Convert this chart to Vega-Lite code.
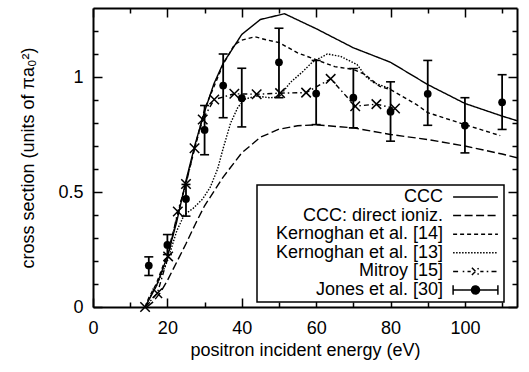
{
  "$schema": "https://vega.github.io/schema/vega-lite/v6.json",
  "width": 424,
  "height": 299,
  "autosize": {"type": "none"},
  "padding": {"left": 93, "top": 8, "right": 12, "bottom": 65},
  "background": "white",
  "config": {
    "view": {"stroke": null},
    "font": "Liberation Sans",
    "axis": {
      "grid": false,
      "domainColor": "black",
      "domainWidth": 2,
      "tickColor": "black",
      "tickWidth": 1.5,
      "labelColor": "black",
      "labelFont": "Liberation Sans",
      "labelFontSize": 18,
      "labelOverlap": false,
      "labelFlush": false,
      "titleColor": "black",
      "titleFont": "Liberation Sans",
      "titleFontSize": 18,
      "titleFontWeight": "normal"
    }
  },
  "datasets": {
    "curves": [
      {"series": "CCC", "x": 14, "y": 0},
      {"series": "CCC", "x": 15, "y": 0.03},
      {"series": "CCC", "x": 17, "y": 0.09},
      {"series": "CCC", "x": 20, "y": 0.22},
      {"series": "CCC", "x": 22.5, "y": 0.37},
      {"series": "CCC", "x": 25, "y": 0.55},
      {"series": "CCC", "x": 27.5, "y": 0.71},
      {"series": "CCC", "x": 30, "y": 0.85},
      {"series": "CCC", "x": 32.5, "y": 0.97},
      {"series": "CCC", "x": 35, "y": 1.06},
      {"series": "CCC", "x": 40, "y": 1.185},
      {"series": "CCC", "x": 45, "y": 1.25},
      {"series": "CCC", "x": 51.5, "y": 1.275},
      {"series": "CCC", "x": 60, "y": 1.21},
      {"series": "CCC", "x": 70, "y": 1.127},
      {"series": "CCC", "x": 80, "y": 1.064},
      {"series": "CCC", "x": 90, "y": 0.967},
      {"series": "CCC", "x": 100, "y": 0.885},
      {"series": "CCC", "x": 110, "y": 0.83},
      {"series": "CCC", "x": 114, "y": 0.81},

      {"series": "CCC: direct ioniz.", "x": 14.5, "y": 0},
      {"series": "CCC: direct ioniz.", "x": 16, "y": 0.02},
      {"series": "CCC: direct ioniz.", "x": 18, "y": 0.06},
      {"series": "CCC: direct ioniz.", "x": 20, "y": 0.115},
      {"series": "CCC: direct ioniz.", "x": 22.5, "y": 0.195},
      {"series": "CCC: direct ioniz.", "x": 25, "y": 0.275},
      {"series": "CCC: direct ioniz.", "x": 27.5, "y": 0.36},
      {"series": "CCC: direct ioniz.", "x": 30, "y": 0.44},
      {"series": "CCC: direct ioniz.", "x": 35, "y": 0.565},
      {"series": "CCC: direct ioniz.", "x": 40, "y": 0.67},
      {"series": "CCC: direct ioniz.", "x": 45, "y": 0.738},
      {"series": "CCC: direct ioniz.", "x": 50, "y": 0.773},
      {"series": "CCC: direct ioniz.", "x": 55, "y": 0.788},
      {"series": "CCC: direct ioniz.", "x": 60, "y": 0.792},
      {"series": "CCC: direct ioniz.", "x": 70, "y": 0.779},
      {"series": "CCC: direct ioniz.", "x": 80, "y": 0.75},
      {"series": "CCC: direct ioniz.", "x": 90, "y": 0.728},
      {"series": "CCC: direct ioniz.", "x": 100, "y": 0.7},
      {"series": "CCC: direct ioniz.", "x": 110, "y": 0.665},
      {"series": "CCC: direct ioniz.", "x": 114, "y": 0.649},

      {"series": "Kernoghan et al. [14]", "x": 14, "y": 0},
      {"series": "Kernoghan et al. [14]", "x": 15, "y": 0.04},
      {"series": "Kernoghan et al. [14]", "x": 17, "y": 0.1},
      {"series": "Kernoghan et al. [14]", "x": 20, "y": 0.23},
      {"series": "Kernoghan et al. [14]", "x": 25, "y": 0.54},
      {"series": "Kernoghan et al. [14]", "x": 30, "y": 0.86},
      {"series": "Kernoghan et al. [14]", "x": 35, "y": 1.055},
      {"series": "Kernoghan et al. [14]", "x": 38, "y": 1.14},
      {"series": "Kernoghan et al. [14]", "x": 40, "y": 1.16},
      {"series": "Kernoghan et al. [14]", "x": 43.5, "y": 1.175},
      {"series": "Kernoghan et al. [14]", "x": 47, "y": 1.16},
      {"series": "Kernoghan et al. [14]", "x": 50, "y": 1.15},
      {"series": "Kernoghan et al. [14]", "x": 55, "y": 1.105},
      {"series": "Kernoghan et al. [14]", "x": 60, "y": 1.075},
      {"series": "Kernoghan et al. [14]", "x": 65, "y": 1.045},
      {"series": "Kernoghan et al. [14]", "x": 70, "y": 1.033},
      {"series": "Kernoghan et al. [14]", "x": 73, "y": 1.012},
      {"series": "Kernoghan et al. [14]", "x": 77, "y": 0.96},
      {"series": "Kernoghan et al. [14]", "x": 80, "y": 0.945},
      {"series": "Kernoghan et al. [14]", "x": 87, "y": 0.88},
      {"series": "Kernoghan et al. [14]", "x": 90, "y": 0.845},
      {"series": "Kernoghan et al. [14]", "x": 100, "y": 0.793},
      {"series": "Kernoghan et al. [14]", "x": 109.5, "y": 0.745},

      {"series": "Kernoghan et al. [13]", "x": 14, "y": 0},
      {"series": "Kernoghan et al. [13]", "x": 15, "y": 0.035},
      {"series": "Kernoghan et al. [13]", "x": 17, "y": 0.09},
      {"series": "Kernoghan et al. [13]", "x": 20, "y": 0.2},
      {"series": "Kernoghan et al. [13]", "x": 22.5, "y": 0.33},
      {"series": "Kernoghan et al. [13]", "x": 24.5, "y": 0.4},
      {"series": "Kernoghan et al. [13]", "x": 27, "y": 0.43},
      {"series": "Kernoghan et al. [13]", "x": 29.5, "y": 0.47},
      {"series": "Kernoghan et al. [13]", "x": 31.5, "y": 0.52},
      {"series": "Kernoghan et al. [13]", "x": 33.5, "y": 0.6},
      {"series": "Kernoghan et al. [13]", "x": 35, "y": 0.69},
      {"series": "Kernoghan et al. [13]", "x": 37, "y": 0.8},
      {"series": "Kernoghan et al. [13]", "x": 39, "y": 0.87},
      {"series": "Kernoghan et al. [13]", "x": 41, "y": 0.905},
      {"series": "Kernoghan et al. [13]", "x": 44, "y": 0.917},
      {"series": "Kernoghan et al. [13]", "x": 47.5, "y": 0.91},
      {"series": "Kernoghan et al. [13]", "x": 50, "y": 0.913},
      {"series": "Kernoghan et al. [13]", "x": 53, "y": 0.975},
      {"series": "Kernoghan et al. [13]", "x": 56.5, "y": 1.025},
      {"series": "Kernoghan et al. [13]", "x": 59, "y": 1.065},
      {"series": "Kernoghan et al. [13]", "x": 63, "y": 1.1},
      {"series": "Kernoghan et al. [13]", "x": 66.5, "y": 1.09},
      {"series": "Kernoghan et al. [13]", "x": 71, "y": 1.054},
      {"series": "Kernoghan et al. [13]", "x": 73.5, "y": 1.0},
      {"series": "Kernoghan et al. [13]", "x": 75.5, "y": 0.975},
      {"series": "Kernoghan et al. [13]", "x": 80.5, "y": 0.946},

      {"series": "Mitroy [15]", "x": 14, "y": 0},
      {"series": "Mitroy [15]", "x": 17.3, "y": 0.06},
      {"series": "Mitroy [15]", "x": 20.2, "y": 0.22},
      {"series": "Mitroy [15]", "x": 22.8, "y": 0.415},
      {"series": "Mitroy [15]", "x": 25, "y": 0.535},
      {"series": "Mitroy [15]", "x": 27.3, "y": 0.69},
      {"series": "Mitroy [15]", "x": 29.5, "y": 0.815},
      {"series": "Mitroy [15]", "x": 32.6, "y": 0.902},
      {"series": "Mitroy [15]", "x": 38, "y": 0.927},
      {"series": "Mitroy [15]", "x": 44, "y": 0.925},
      {"series": "Mitroy [15]", "x": 50.3, "y": 0.93},
      {"series": "Mitroy [15]", "x": 57.3, "y": 0.932},
      {"series": "Mitroy [15]", "x": 63.9, "y": 0.992},
      {"series": "Mitroy [15]", "x": 70.5, "y": 0.873},
      {"series": "Mitroy [15]", "x": 76.2, "y": 0.882},
      {"series": "Mitroy [15]", "x": 81.2, "y": 0.863}
    ],
    "jones": [
      {"x": 15, "y": 0.18, "lo": 0.137, "hi": 0.218},
      {"x": 20, "y": 0.27, "lo": 0.228, "hi": 0.315},
      {"x": 25, "y": 0.47, "lo": 0.395, "hi": 0.533},
      {"x": 30, "y": 0.77, "lo": 0.662, "hi": 0.876},
      {"x": 35, "y": 0.963, "lo": 0.823, "hi": 1.1},
      {"x": 40, "y": 0.908, "lo": 0.783, "hi": 1.038},
      {"x": 50, "y": 1.064, "lo": 0.91, "hi": 1.212},
      {"x": 60, "y": 0.928, "lo": 0.793, "hi": 1.072},
      {"x": 70, "y": 0.91, "lo": 0.779, "hi": 1.037},
      {"x": 80, "y": 0.849, "lo": 0.721, "hi": 0.979},
      {"x": 90, "y": 0.927, "lo": 0.79, "hi": 1.072},
      {"x": 100, "y": 0.789, "lo": 0.67, "hi": 0.91},
      {"x": 110, "y": 0.89, "lo": 0.772, "hi": 1.01}
    ]
  },
  "layer": [
    {
      "data": {"name": "curves"},
      "mark": {"type": "line", "color": "black", "strokeWidth": 1.4},
      "encoding": {
        "x": {
          "field": "x", "type": "quantitative",
          "scale": {"domain": [0, 114], "nice": false, "zero": false},
          "axis": {
            "orient": "bottom", "values": [0, 20, 40, 60, 80, 100], "format": "d",
            "ticks": false, "labelPadding": 12,
            "title": "positron incident energy (eV)", "titlePadding": 4
          }
        },
        "y": {
          "field": "y", "type": "quantitative",
          "scale": {"domain": [0, 1.3], "nice": false, "zero": false},
          "axis": {
            "orient": "left", "values": [0, 0.5, 1], "format": "~g",
            "ticks": false, "labelPadding": 10,
            "title": "cross section (units of πa₀²)", "titlePadding": 20
          }
        },
        "strokeDash": {
          "field": "series", "type": "nominal",
          "scale": {
            "domain": ["CCC", "CCC: direct ioniz.", "Kernoghan et al. [14]", "Kernoghan et al. [13]", "Mitroy [15]", "Jones et al. [30]"],
            "range": [[1, 0], [8, 3.5], [4, 3], [1.5, 1.5], [5, 3, 1.5, 3], [1, 0]]
          },
          "legend": {
            "orient": "none", "legendX": 164, "legendY": 177,
            "title": null,
            "padding": 3,
            "fillColor": "white",
            "strokeColor": "black",
            "rowPadding": 0.6,
            "symbolType": "stroke",
            "symbolSize": 256,
            "symbolStrokeWidth": 1.5,
            "symbolStrokeColor": "black",
            "symbolOffset": 206.5,
            "labelAlign": "right",
            "labelOffset": -41.5,
            "labelLimit": 400,
            "labelFont": "Liberation Sans",
            "labelFontSize": 18,
            "labelColor": "black",
            "encode": {
              "legend": {"update": {"strokeWidth": {"value": 1.5}}},
              "symbols": {
                "update": {
                  "stroke": {"value": "black"},
                  "strokeWidth": {"value": 1.5},
                  "opacity": {"value": 1},
                  "shape": {"signal": "datum.value === 'Mitroy [15]' ? 'M-2.8,0H-2.0M-1.6,0H-1.4M-1.0,0H-0.6M-0.45,-0.45L0.45,0.45M-0.45,0.45L0.45,-0.45M0.6,0H1.0M1.4,0H1.6M2.0,0H2.8' : datum.value === 'Jones et al. [30]' ? 'M-2.8,-0.6V0.6M-2.8,0H2.8M2.8,-0.6V0.6M0.5,0A0.5,0.5 0 1 1 -0.5,0A0.5,0.5 0 1 1 0.5,0Z' : 'M-2.8,0H2.8'"},
                  "fill": {"signal": "datum.value === 'Jones et al. [30]' ? 'black' : 'transparent'"},
                  "strokeDash": {"signal": "(datum.value === 'Mitroy [15]' || datum.value === 'Jones et al. [30]') ? [1, 0] : scale('strokeDash', datum.value)"}
                }
              }
            }
          }
        }
      }
    },
    {
      "data": {"name": "curves"},
      "transform": [{"filter": "datum.series === 'Mitroy [15]'"}],
      "mark": {"type": "point", "shape": "M-1,-1L1,1M-1,1L1,-1", "size": 90, "filled": false, "stroke": "black", "strokeWidth": 1.5, "opacity": 1},
      "encoding": {
        "x": {
          "field": "x", "type": "quantitative",
          "scale": {"domain": [0, 114], "nice": false, "zero": false},
          "axis": {"orient": "bottom", "values": [0, 20, 40, 60, 80, 100], "labels": false, "domain": false, "title": null, "tickSize": -9}
        },
        "y": {
          "field": "y", "type": "quantitative",
          "scale": {"domain": [0, 1.3], "nice": false, "zero": false},
          "axis": {"orient": "left", "values": [0, 0.5, 1], "labels": false, "domain": false, "title": null, "tickSize": -9}
        }
      }
    },
    {
      "data": {"name": "jones"},
      "mark": {"type": "rule", "color": "black", "strokeWidth": 1.8},
      "encoding": {
        "x": {
          "field": "x", "type": "quantitative",
          "scale": {"domain": [0, 114], "nice": false, "zero": false},
          "axis": {"orient": "bottom", "values": [10, 30, 50, 70, 90, 110], "labels": false, "domain": false, "title": null, "tickSize": -5}
        },
        "y": {
          "field": "lo", "type": "quantitative",
          "scale": {"domain": [0, 1.3], "nice": false, "zero": false},
          "axis": {"orient": "left", "values": [0.1, 0.2, 0.3, 0.4, 0.6, 0.7, 0.8, 0.9, 1.1, 1.2], "labels": false, "domain": false, "title": null, "tickSize": -5}
        },
        "y2": {"field": "hi"}
      }
    },
    {
      "data": {"name": "jones"},
      "mark": {"type": "tick", "orient": "horizontal", "color": "black", "size": 9, "thickness": 1.6, "opacity": 1},
      "encoding": {
        "x": {
          "field": "x", "type": "quantitative",
          "scale": {"domain": [0, 114], "nice": false, "zero": false},
          "axis": {"orient": "top", "values": [0, 20, 40, 60, 80, 100], "labels": false, "domain": true, "title": null, "tickSize": -9}
        },
        "y": {
          "field": "lo", "type": "quantitative",
          "scale": {"domain": [0, 1.3], "nice": false, "zero": false},
          "axis": {"orient": "right", "values": [0, 0.5, 1], "labels": false, "domain": true, "title": null, "tickSize": -9}
        }
      }
    },
    {
      "data": {"name": "jones"},
      "mark": {"type": "tick", "orient": "horizontal", "color": "black", "size": 9, "thickness": 1.6, "opacity": 1},
      "encoding": {
        "x": {
          "field": "x", "type": "quantitative",
          "scale": {"domain": [0, 114], "nice": false, "zero": false},
          "axis": {"orient": "top", "values": [10, 30, 50, 70, 90, 110], "labels": false, "domain": false, "title": null, "tickSize": -5}
        },
        "y": {
          "field": "hi", "type": "quantitative",
          "scale": {"domain": [0, 1.3], "nice": false, "zero": false},
          "axis": {"orient": "right", "values": [0.1, 0.2, 0.3, 0.4, 0.6, 0.7, 0.8, 0.9, 1.1, 1.2], "labels": false, "domain": false, "title": null, "tickSize": -5}
        }
      }
    },
    {
      "data": {"name": "jones"},
      "mark": {"type": "circle", "size": 60, "color": "black", "opacity": 1},
      "encoding": {
        "x": {"field": "x", "type": "quantitative", "scale": {"domain": [0, 114], "nice": false, "zero": false}, "axis": null},
        "y": {"field": "y", "type": "quantitative", "scale": {"domain": [0, 1.3], "nice": false, "zero": false}, "axis": null}
      }
    }
  ],
  "resolve": {"axis": {"x": "independent", "y": "independent"}}
}
